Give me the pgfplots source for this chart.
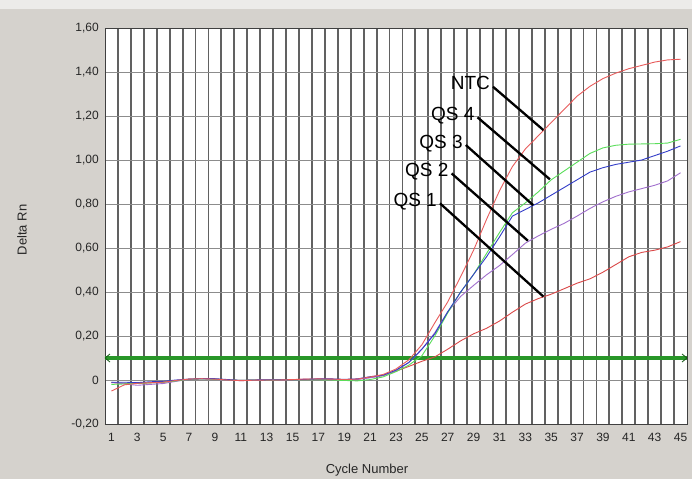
\documentclass[border=0pt]{standalone}
\usepackage{fontspec}
\setmainfont{Liberation Sans}
\usepackage{pgfplots}
\pgfplotsset{compat=1.18}
\usepackage{pgfplotstable}

\definecolor{bg}{RGB}{213,210,205}
\definecolor{ntcred}{RGB}{232,92,92}
\definecolor{qsred}{RGB}{218,72,72}
\definecolor{qsgreen}{RGB}{90,222,90}
\definecolor{qsblue}{RGB}{50,60,200}
\definecolor{qspurple}{RGB}{160,110,205}
\definecolor{thresh}{RGB}{40,150,40}

% cycle, Delta Rn per sample
\pgfplotstableread{
cyc ntc qs4 qs3 qs2 qs1
1 -0.050 -0.020 -0.010 -0.010 -0.012
2 -0.022 -0.018 -0.010 -0.018 -0.015
3 -0.015 -0.015 -0.012 -0.024 -0.016
4 -0.012 -0.013 -0.008 -0.020 -0.013
5 -0.010 -0.010 -0.006 -0.016 -0.010
6 -0.002 -0.004 0.000 -0.006 -0.003
7 0.004 0.003 0.004 0.003 0.004
8 0.006 0.005 0.006 0.005 0.006
9 0.004 0.004 0.006 0.003 0.004
10 0.000 0.001 0.002 0.000 0.001
11 -0.003 -0.002 -0.002 -0.003 -0.002
12 -0.001 0.000 0.000 -0.001 0.000
13 0.000 0.000 0.001 0.000 0.000
14 0.000 0.001 0.001 0.000 0.001
15 0.002 0.001 0.001 0.002 0.002
16 0.004 0.002 0.003 0.003 0.003
17 0.005 0.001 0.005 0.004 0.004
18 0.004 0.000 0.005 0.003 0.004
19 0.002 -0.002 0.003 0.001 0.002
20 0.004 -0.004 0.005 0.002 0.004
21 0.014 0.002 0.015 0.010 0.012
22 0.025 0.014 0.022 0.020 0.020
23 0.050 0.038 0.045 0.042 0.040
24 0.092 0.068 0.080 0.080 0.062
25 0.160 0.110 0.140 0.140 0.085
26 0.260 0.200 0.210 0.215 0.105
27 0.355 0.305 0.310 0.310 0.140
28 0.470 0.400 0.400 0.380 0.178
29 0.590 0.480 0.480 0.430 0.210
30 0.730 0.575 0.560 0.478 0.235
31 0.860 0.670 0.650 0.520 0.268
32 0.970 0.760 0.745 0.570 0.308
33 1.050 0.805 0.775 0.622 0.345
34 1.110 0.855 0.805 0.655 0.370
35 1.170 0.910 0.840 0.685 0.390
36 1.230 0.950 0.875 0.712 0.415
37 1.290 0.990 0.910 0.745 0.440
38 1.335 1.030 0.945 0.780 0.460
39 1.370 1.055 0.965 0.810 0.490
40 1.395 1.067 0.980 0.835 0.525
41 1.415 1.072 0.990 0.855 0.560
42 1.430 1.073 1.000 0.870 0.580
43 1.445 1.074 1.020 0.885 0.590
44 1.455 1.077 1.040 0.905 0.605
45 1.458 1.094 1.064 0.942 0.629
}\runs

\begin{document}
\begin{tikzpicture}
\fill[bg] (-105pt,-55pt) rectangle (587pt,424pt);
\fill[white!55!bg] (-105pt,415pt) rectangle (587pt,424pt);

\begin{axis}[
  at={(0pt,0pt)}, anchor=south west,
  scale only axis, width=582pt, height=396pt,
  xmin=0.5, xmax=45.5, ymin=-0.2, ymax=1.6,
  axis background/.style={fill=white},
  axis line style={black!75, line width=0.9pt},
  xtick={1,3,...,45},
  minor xtick={1.5,2.5,...,44.5},
  ytick={-0.2,0,0.2,0.4,0.6,0.8,1.0,1.2,1.4,1.6},
  yticklabels={{-0,20},{0},{0,20},{0,40},{0,60},{0,80},{1,00},{1,20},{1,40},{1,60}},
  major tick length=0pt, minor tick length=0pt,
  xminorgrids, ymajorgrids,
  minor x grid style={black!62, line width=1.9pt},
  major y grid style={black!45, line width=0.8pt},
  /pgf/number format/assume math mode=true,
  tick label style={font=\fontsize{12}{14}\selectfont, text=black!85},
  xticklabel style={anchor=center, yshift=-13pt},
  yticklabel style={anchor=east, inner sep=0pt, xshift=-6pt},
  every axis plot/.append style={line width=0.9pt},
]
\addplot[thresh, line width=3.5pt] coordinates {(0.5,0.1) (45.5,0.1)};
\addplot[qsred]    table[x=cyc, y=qs1] {\runs};
\addplot[qspurple] table[x=cyc, y=qs2] {\runs};
\addplot[qsgreen]  table[x=cyc, y=qs4] {\runs};
\addplot[qsblue]   table[x=cyc, y=qs3] {\runs};
\addplot[ntcred]   table[x=cyc, y=ntc] {\runs};

% arrow heads of the threshold line
\draw[thresh!60!black, line width=0.8pt] ([xshift=5pt,yshift=4pt]axis cs:0.5,0.1) -- (axis cs:0.5,0.1) -- ([xshift=5pt,yshift=-4pt]axis cs:0.5,0.1);
\draw[thresh!60!black, line width=0.8pt] ([xshift=-5pt,yshift=4pt]axis cs:45.5,0.1) -- (axis cs:45.5,0.1) -- ([xshift=-5pt,yshift=-4pt]axis cs:45.5,0.1);

% sample labels with leader lines
\begin{scope}[line width=2.3pt, every node/.style={anchor=base east, inner sep=0pt, xshift=-2pt, yshift=-3pt, font=\fontsize{19}{21}\selectfont}]
\draw (axis cs:30.5,1.333) node {NTC} -- (axis cs:34.4,1.136);
\draw (axis cs:29.3,1.194) node {QS 4} -- (axis cs:34.9,0.912);
\draw (axis cs:28.4,1.068) node {QS 3} -- (axis cs:33.6,0.795);
\draw (axis cs:27.3,0.939) node {QS 2} -- (axis cs:33.2,0.633);
\draw (axis cs:26.4,0.803) node {QS 1} -- (axis cs:34.4,0.379);
\end{scope}
\end{axis}

\node[rotate=90, font=\fontsize{13}{15}\selectfont, text=black!85] at (-83pt,194pt) {Delta Rn};
\node[font=\fontsize{13}{15}\selectfont, text=black!85] at (262pt,-46pt) {Cycle Number};

\pgfresetboundingbox
\useasboundingbox (-105pt,-55pt) rectangle (587pt,424pt);
\end{tikzpicture}
\end{document}
